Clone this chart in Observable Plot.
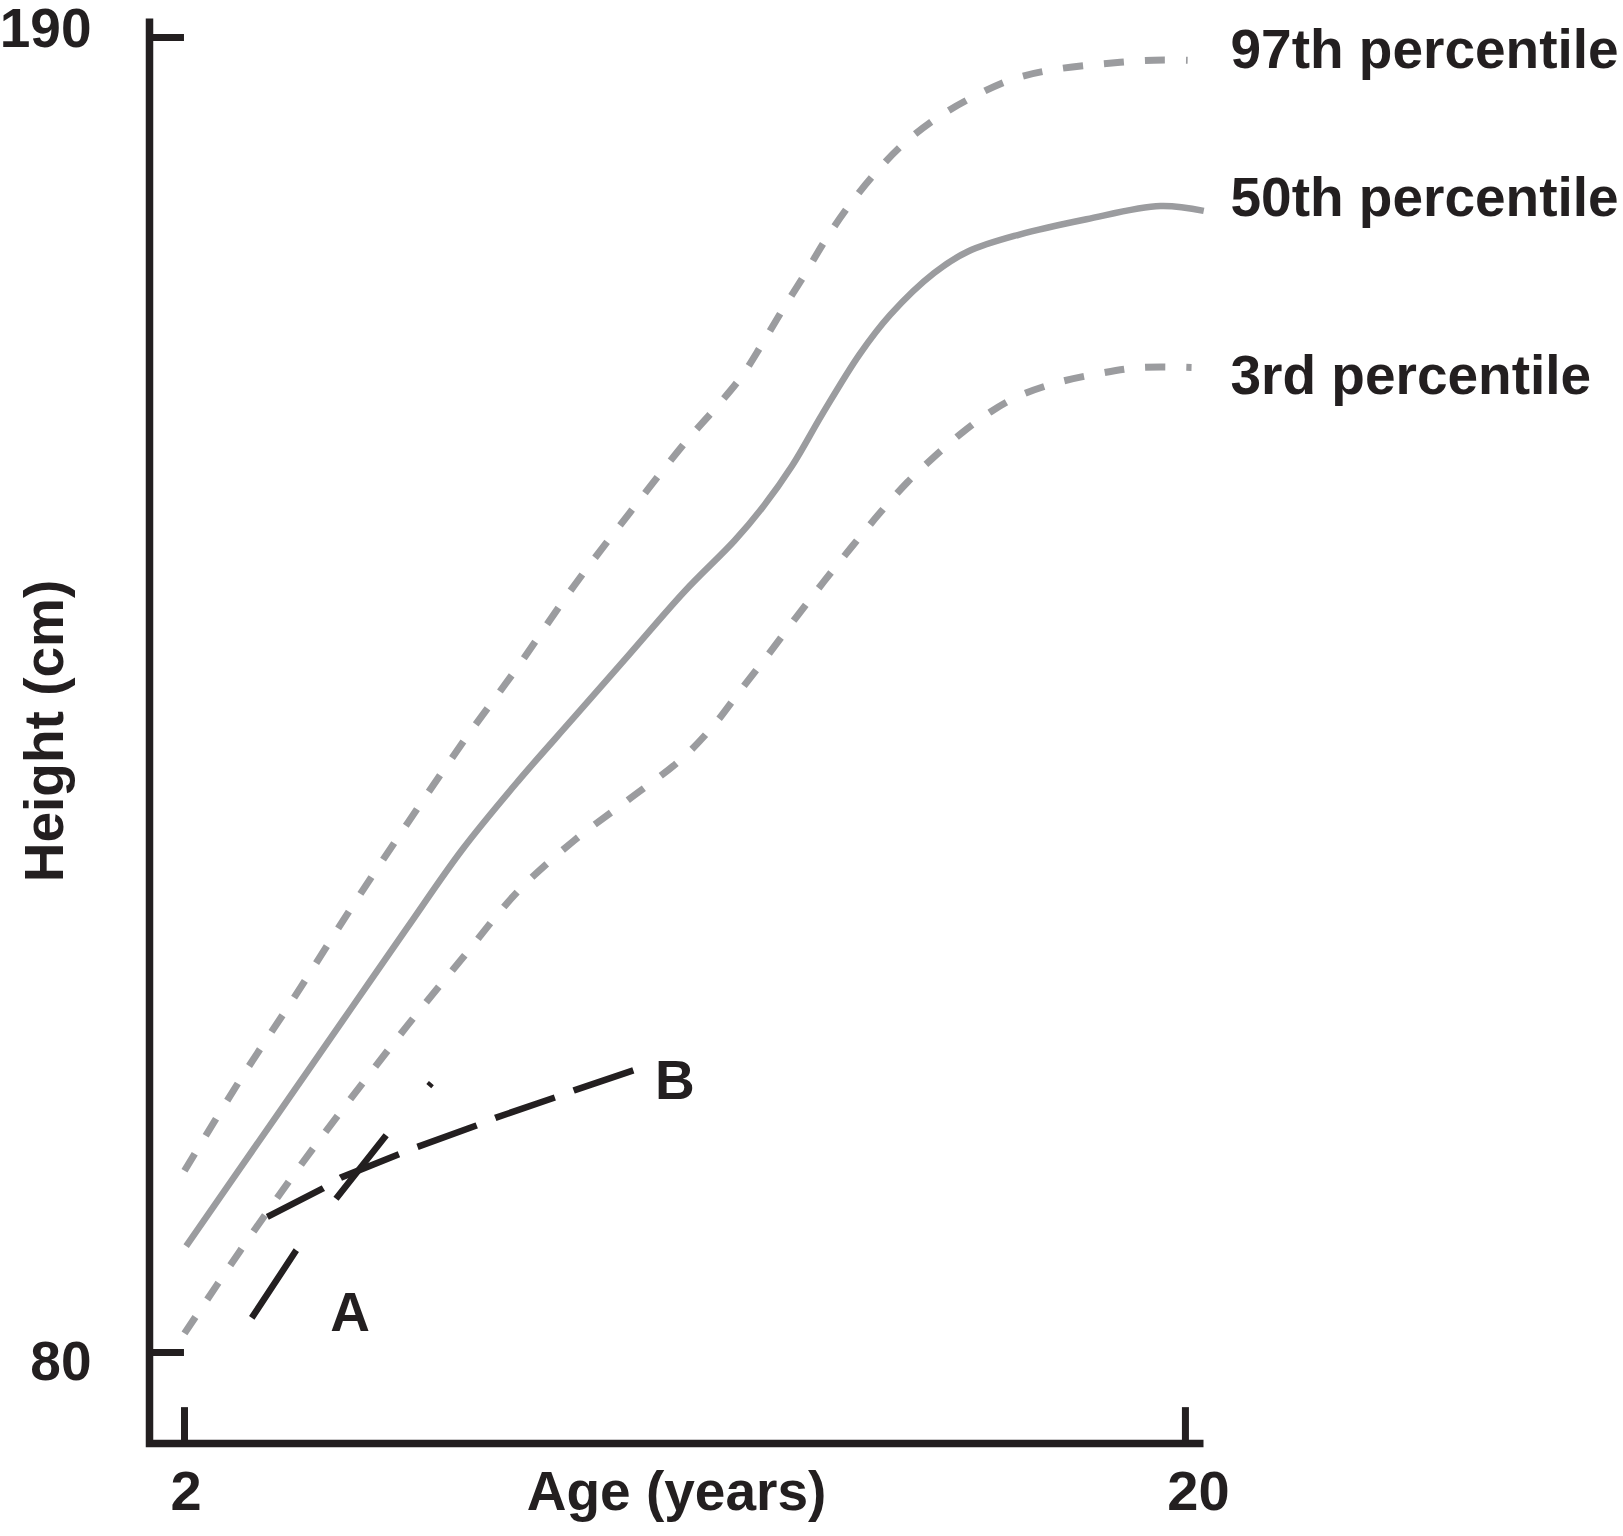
<!DOCTYPE html>
<html>
<head>
<meta charset="utf-8">
<script src="https://cdn.jsdelivr.net/npm/d3@7"></script>
<script src="https://cdn.jsdelivr.net/npm/@observablehq/plot@0.6"></script>
<style>
  html, body { margin: 0; padding: 0; background: #fff; }
  #chart svg { display: block; }
</style>
</head>
<body>
<div id="chart"></div>
<script>
// ---- data ----
const ageTicks = [2, 20];
const heightTicks = [80, 190];

const p97Age    = [2.0, 3.0, 4.0, 5.0, 6.0, 7.0, 8.0, 9.0, 10.0, 11.0, 11.53, 12.01, 12.38, 12.74, 13.17, 13.53, 13.96, 14.45, 14.93, 15.54, 16.21, 16.88, 17.61, 18.52, 19.43, 20.04];
const p97Height = [95.2, 102.8, 109.9, 117.2, 124.2, 131.0, 137.4, 144.1, 150.2, 156.1, 158.9, 161.6, 164.3, 167.1, 170.3, 173.1, 176.0, 178.8, 181.1, 183.3, 185.1, 186.5, 187.3, 187.8, 188.1, 188.1];

const p50Age    = [2.03, 3.0, 4.0, 5.0, 6.0, 7.0, 8.0, 9.0, 10.0, 11.0, 11.89, 12.38, 12.93, 13.47, 14.14, 14.69, 15.48, 16.09, 17.0, 18.22, 19.55, 20.33];
const p50Height = [88.9, 95.4, 102.1, 108.8, 115.5, 122.1, 127.8, 133.1, 138.4, 143.7, 147.9, 150.6, 154.2, 158.5, 163.5, 166.8, 170.3, 172.1, 173.5, 174.8, 175.9, 175.5];

const p3Age     = [2.0, 3.0, 4.0, 5.0, 6.0, 7.0, 8.0, 9.0, 10.0, 10.9, 11.47, 12.0, 12.5, 13.0, 13.5, 14.0, 14.5, 15.0, 15.5, 16.0, 16.5, 17.0, 17.67, 18.46, 19.19, 20.11];
const p3Height  = [81.6, 88.5, 95.1, 101.3, 107.3, 113.0, 118.6, 122.8, 126.3, 129.5, 132.2, 135.4, 138.4, 141.5, 144.5, 147.4, 150.2, 152.8, 155.0, 157.0, 158.7, 160.0, 161.1, 161.9, 162.4, 162.4];

const childAAge    = [3.21, 4.01, 4.72, 5.63, 6.44];
const childAHeight = [82.9, 88.55, 92.84, 98.2, 102.54];

const childBAge    = [3.49, 4.49, 4.81, 5.86, 6.19, 7.25, 7.59, 8.67, 9.02, 10.09];
const childBHeight = [91.34, 93.73, 94.63, 96.59, 97.2, 98.99, 99.63, 101.35, 101.95, 103.63];

const percentileLabels = ["97th percentile", "50th percentile", "3rd percentile"];
const percentileLabelHeight = [187.49, 175.11, 160.22];
const childLabels = ["A", "B"];
const childLabelAge = [4.98, 10.82];
const childLabelHeight = [81.84, 101.22];

// ---- tables ----
const rows = (a, h) => a.map((x, i) => ({age: x, height: h[i]}));
const p97 = rows(p97Age, p97Height);
const p50 = rows(p50Age, p50Height);
const p3 = rows(p3Age, p3Height);
const childA = rows(childAAge, childAHeight);
const childB = rows(childBAge, childBHeight);

// ---- styling ----
const INK = "#231f20";
const GRAY = "#9b9c9f";
const FONT = "'Liberation Sans', Arial, Helvetica, sans-serif";
const xDomain = [1.371, 20.325];
const yDomain = [72.39, 191.59];
const xTickLen = 3.0;
const yLabelNudge = [10, -8];
const xLabelNudge = [1.5, 13];

const frame = [
  {age: xDomain[0], height: yDomain[1]},
  {age: xDomain[0], height: yDomain[0]},
  {age: xDomain[1], height: yDomain[0]}
];

const grayDashed = {x: "age", y: "height", stroke: GRAY, strokeWidth: 7, strokeDasharray: "20 21", strokeLinecap: "butt", curve: "catmull-rom"};

const chart = Plot.plot({
  width: 1623,
  height: 1536,
  marginLeft: 149,
  marginRight: 420,
  marginTop: 18,
  marginBottom: 93,
  x: {domain: xDomain, axis: null},
  y: {domain: yDomain, axis: null},
  style: {fontFamily: FONT, background: "#fff", color: INK, overflow: "visible"},
  marks: [
    // axis frame
    Plot.line(frame, {x: "age", y: "height", stroke: INK, strokeWidth: 7.5, strokeLinejoin: "miter", strokeMiterlimit: 10, strokeLinecap: "butt"}),
    Plot.ruleY(heightTicks, {x1: xDomain[0], x2: ageTicks[0], stroke: INK, strokeWidth: 7}),
    Plot.ruleX(ageTicks, {y1: yDomain[0], y2: yDomain[0] + xTickLen, stroke: INK, strokeWidth: 7}),
    // tick labels
    ...heightTicks.map((t, i) => Plot.axisY([t], {anchor: "left", tickSize: 0, tickPadding: 58, dy: yLabelNudge[i], fontSize: 55, fontWeight: "bold", fill: INK, label: null})),
    ...ageTicks.map((t, i) => Plot.axisX([t], {anchor: "bottom", tickSize: 0, tickPadding: 27, dx: xLabelNudge[i], fontSize: 56, fontWeight: "bold", fill: INK, label: null})),
    // axis titles
    Plot.text(["Age (years)"], {frameAnchor: "bottom", textAnchor: "middle", lineAnchor: "top", dy: 27, fontSize: 55, fontWeight: "bold", fill: INK}),
    Plot.text(["Height (cm)"], {frameAnchor: "left", textAnchor: "middle", lineAnchor: "middle", rotate: -90, dx: -104.5, fontSize: 55, fontWeight: "bold", fill: INK}),
    // percentile curves
    Plot.line(p97, grayDashed),
    Plot.line(p3, grayDashed),
    Plot.line(p50, {x: "age", y: "height", stroke: GRAY, strokeWidth: 6.5, strokeLinecap: "butt", curve: "catmull-rom"}),
    // children A and B
    Plot.line(childA, {x: "age", y: "height", stroke: INK, strokeWidth: 6.5, strokeDasharray: "81 65", strokeLinecap: "butt", strokeLinejoin: "miter"}),
    Plot.line(childB, {x: "age", y: "height", stroke: INK, strokeWidth: 6.5, strokeDasharray: "63 20", strokeLinecap: "butt", strokeLinejoin: "miter"}),
    // labels
    Plot.text(percentileLabels, {x: () => 20.81, y: (d, i) => percentileLabelHeight[i], text: d => d, textAnchor: "start", lineAnchor: "bottom", fontSize: 55, fontWeight: "bold", fill: INK}),
    Plot.text(childLabels, {x: (d, i) => childLabelAge[i], y: (d, i) => childLabelHeight[i], text: d => d, textAnchor: "middle", lineAnchor: "bottom", fontSize: 55, fontWeight: "bold", fill: INK})
  ]
});
document.getElementById("chart").appendChild(chart);
</script>
</body>
</html>
